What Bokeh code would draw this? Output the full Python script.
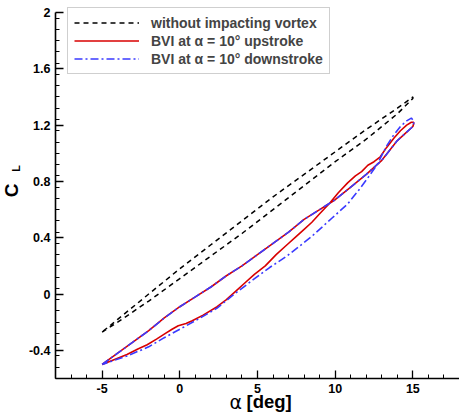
import math
from bokeh.plotting import figure
from bokeh.models import FixedTicker, Label, Legend, LegendItem, Range1d, LinearAxis
from bokeh.embed import file_html
from bokeh.resources import INLINE

# ---- data ----
# clean case (without impacting vortex): two branches
clean_alpha = [-5, -4, -2, 0, 2, 4, 6, 8, 10, 12, 14, 15]
clean_upper = [-0.27, -0.18, 0.00, 0.18, 0.35, 0.52, 0.69, 0.85, 1.01, 1.17, 1.32, 1.40]
clean_lower = [-0.27, -0.20, -0.05, 0.11, 0.27, 0.43, 0.60, 0.77, 0.94, 1.10, 1.28, 1.39]

# shared nearly straight branch of the BVI loops
straight_alpha = [-5, -4, -3, -2, -1, 0, 1, 2, 3, 4, 5, 6, 7, 8, 9, 10, 11, 12, 13, 14, 14.6, 15, 15.05]
straight_cl = [-0.50, -0.42, -0.34, -0.26, -0.17, -0.09, -0.02, 0.05, 0.13, 0.20, 0.28, 0.36,
               0.44, 0.53, 0.60, 0.67, 0.76, 0.85, 0.95, 1.09, 1.15, 1.19, 1.21]

# BVI upstroke: wavy branch (from alpha = 15 back to -5)
up_alpha = [15.05, 14.9, 14.6, 14.2, 13.8, 13.3, 12.9, 12.5, 12.1, 11.7, 11.3, 10.8, 10.2, 9.6,
            9.0, 8.5, 8.0, 7.5, 6.9, 6.2, 5.5, 4.8, 4.2, 3.5, 3.0, 2.4, 1.5, 0.8, 0.4, -0.1,
            -0.5, -1.0, -1.5, -2.1, -2.7, -3.4, -4.2, -5]
up_cl = [1.22, 1.22, 1.20, 1.16, 1.11, 1.04, 0.975, 0.94, 0.915, 0.87, 0.84, 0.79, 0.72, 0.64,
         0.57, 0.51, 0.46, 0.41, 0.35, 0.28, 0.20, 0.14, 0.08, 0.01, -0.04, -0.09, -0.15, -0.19,
         -0.21, -0.225, -0.25, -0.285, -0.32, -0.36, -0.39, -0.43, -0.465, -0.50]

# BVI downstroke: second branch (from alpha = 15 back to -5)
down_alpha = [15.05, 14.9, 14.6, 14.2, 13.7, 13.3, 12.7, 12.2, 11.6, 10.8, 9.8, 8.5, 7.7, 6.9,
              5.8, 4.7, 3.4, 2.4, 1.0, 0, -1, -2, -3.4, -4.2, -5]
down_cl = [1.23, 1.25, 1.23, 1.19, 1.12, 1.05, 0.92, 0.84, 0.75, 0.64, 0.54, 0.41, 0.34, 0.27,
           0.19, 0.10, -0.01, -0.10, -0.19, -0.25, -0.31, -0.375, -0.44, -0.47, -0.50]

x_major = [-5, 0, 5, 10, 15]
y_major = [-0.4, 0, 0.4, 0.8, 1.2, 1.6, 2.0]
y_labels = ["-0.4", "0", "0.4", "0.8", "1.2", "1.6", "2"]

legend_labels = ["without impacting vortex",
                 "BVI at \u03b1 = 10\u00b0 upstroke",
                 "BVI at \u03b1 = 10\u00b0 downstroke"]

# axis extents (data) and canvas margins
X0, X1 = -8.0, 18.0
Y0, Y1 = -0.6, 2.0
W, H = 459, 419
ML, MT, MB = 55, 12, 41          # pixel margins of the axes box
sx = (W - ML) / (X1 - X0)
sy = (H - MT - MB) / (Y1 - Y0)

p = figure(width=W, height=H, output_backend="svg", toolbar_location=None,
           x_range=Range1d(X0 - ML / sx, X1), y_range=Range1d(Y0 - MB / sy, Y1 + MT / sy),
           x_axis_location=None, y_axis_location=None,
           min_border=0, min_border_left=0, min_border_right=0,
           min_border_top=0, min_border_bottom=0)
p.outline_line_color = None
p.grid.visible = False
p.background_fill_color = "white"
p.border_fill_color = "white"

black_x = clean_alpha + clean_alpha[::-1]
black_y = clean_lower + clean_upper[::-1]
r0 = p.line(black_x, black_y, line_color="black", line_width=1.5, line_dash="5 4")

red_x = straight_alpha + up_alpha
red_y = straight_cl + up_cl
r1 = p.line(red_x, red_y, line_color="#d80000", line_width=1.6)

blue_x = straight_alpha + down_alpha
blue_y = straight_cl + down_cl
r2 = p.line(blue_x, blue_y, line_color="#3a3aff", line_width=1.6, line_dash="8 3 2 3")

# axes at fixed locations
minor_x = [v for v in range(-8, 19) if v % 5 != 0]
minor_y = [round(-0.6 + 0.08 * i, 2) for i in range(0, 33)]
minor_y = [v for v in minor_y if all(abs(v - m) > 1e-6 for m in y_major)]

xaxis = LinearAxis(fixed_location=Y0, bounds=(X0, X1),
                   ticker=FixedTicker(ticks=x_major, minor_ticks=minor_x),
                   major_label_overrides={v: str(v) for v in x_major})
yaxis = LinearAxis(fixed_location=X0, bounds=(Y0, Y1),
                   ticker=FixedTicker(ticks=y_major, minor_ticks=minor_y),
                   major_label_overrides={v: s for v, s in zip(y_major, y_labels)})
for ax in (xaxis, yaxis):
    ax.axis_line_width = 1.6
    ax.axis_line_color = "black"
    ax.major_tick_in = 8
    ax.major_tick_out = 0
    ax.minor_tick_in = 4
    ax.minor_tick_out = 0
    ax.major_tick_line_width = 1.3
    ax.minor_tick_line_width = 1
    ax.major_label_standoff = 5
    ax.major_label_text_font = "Liberation Sans"
    ax.major_label_text_font_style = "bold"
    ax.major_label_text_font_size = "12.5px"
    ax.major_label_text_color = "black"
p.add_layout(xaxis, "below")
p.add_layout(yaxis, "left")

# axis titles as labels (inside the frame area)
def px2x(px):
    return X0 + (px - ML) / sx

def py2y(py):
    return Y1 - (py - MT) / sy

p.add_layout(Label(x=px2x(229), y=py2y(401), text="\u03b1", text_font="DejaVu Sans",
                   text_font_size="19px", text_align="left", text_baseline="alphabetic",
                   text_color="black"))
p.add_layout(Label(x=px2x(246), y=py2y(401), text="[deg]", text_font="Liberation Sans",
                   text_font_style="bold", text_font_size="18.5px", text_align="left",
                   text_baseline="alphabetic", text_color="black"))
p.add_layout(Label(x=px2x(11), y=py2y(190), text="C", text_font="Liberation Sans",
                   text_font_style="bold", text_font_size="19px", angle=math.pi / 2,
                   text_align="center", text_baseline="alphabetic", text_color="black"))
p.add_layout(Label(x=px2x(15), y=py2y(168), text="L", text_font="Liberation Sans",
                   text_font_style="bold", text_font_size="11px", angle=math.pi / 2,
                   text_align="center", text_baseline="alphabetic", text_color="black"))

legend = Legend(items=[LegendItem(label=legend_labels[0], renderers=[r0]),
                       LegendItem(label=legend_labels[1], renderers=[r1]),
                       LegendItem(label=legend_labels[2], renderers=[r2])],
                location=(67, H - 74))
legend.glyph_width = 65
legend.glyph_height = 17
legend.label_height = 17
legend.spacing = 1
legend.padding = 6
legend.margin = 0
legend.label_standoff = 12
legend.label_text_font = "Liberation Sans"
legend.label_text_font_style = "bold"
legend.label_text_font_size = "14px"
legend.border_line_color = "#a0a0a0"
legend.border_line_width = 1
legend.background_fill_color = "white"
legend.background_fill_alpha = 1
p.add_layout(legend)

open("out.html", "w").write(file_html(p, INLINE))
